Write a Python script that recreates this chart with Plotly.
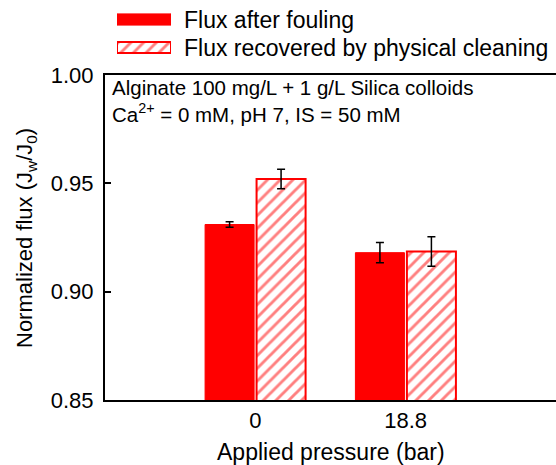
import plotly.graph_objects as go

W, H = 556, 465

pressures = ["0", "18.8"]
series_names = ["Flux after fouling", "Flux recovered by physical cleaning"]
flux_after_fouling = [0.931, 0.918]
flux_after_fouling_err = [0.0013, 0.0047]
flux_recovered = [0.952, 0.9185]
flux_recovered_err = [0.0045, 0.0068]
y_ticks = [0.85, 0.90, 0.95, 1.00]

RED = "#ff0000"
FONT = "Liberation Sans, Arial, sans-serif"

def px_x(x):
    return x / W

def px_y(y):
    return 1 - y / H

HATCH = dict(shape="/", fgcolor=RED, bgcolor="white", size=9, solidity=0.32)

fig = go.Figure()

fig.add_trace(go.Bar(
    x=pressures, y=flux_after_fouling, name=series_names[0],
    marker=dict(color=RED, line=dict(color=RED, width=1)),
    error_y=dict(type="data", array=flux_after_fouling_err, color="black", thickness=1.5, width=4),
    showlegend=False,
))
fig.add_trace(go.Bar(
    x=pressures, y=flux_recovered, name=series_names[1],
    marker=dict(color="white", line=dict(color=RED, width=2), pattern=HATCH),
    error_y=dict(type="data", array=flux_recovered_err, color="black", thickness=1.5, width=4),
    showlegend=False,
))

# legend swatches on a small auxiliary axis
fig.add_trace(go.Bar(
    y=[0], x=[1], orientation="h", width=0.4, xaxis="x2", yaxis="y2",
    marker=dict(color=RED, line=dict(color=RED, width=1)), showlegend=False, hoverinfo="skip",
))
fig.add_trace(go.Bar(
    y=[1], x=[1], orientation="h", width=0.4, xaxis="x2", yaxis="y2",
    marker=dict(color="white", line=dict(color=RED, width=2), pattern=HATCH),
    showlegend=False, hoverinfo="skip",
))

annotations = []
for i, name in enumerate(series_names):
    annotations.append(dict(
        text=name, xref="paper", yref="paper", x=px_x(182), y=px_y(19.5 + 28 * i),
        xanchor="left", yanchor="middle", showarrow=False,
        font=dict(family=FONT, size=23, color="black"),
    ))

annotations.append(dict(
    text="Alginate 100 mg/L + 1 g/L Silica colloids<br>Ca<sup>2+</sup> = 0 mM, pH 7, IS = 50 mM",
    xref="paper", yref="paper", x=px_x(110), y=px_y(74),
    xanchor="left", yanchor="top", align="left", showarrow=False,
    font=dict(family=FONT, size=20.5, color="black"),
))
annotations.append(dict(
    text="Normalized flux (J<sub>w</sub>/J<sub>0</sub>)",
    xref="paper", yref="paper", x=px_x(26), y=px_y(238), textangle=-90,
    xanchor="center", yanchor="middle", showarrow=False,
    font=dict(family=FONT, size=22, color="black"),
))
annotations.append(dict(
    text="Applied pressure (bar)",
    xref="paper", yref="paper", x=px_x(331), y=px_y(452),
    xanchor="center", yanchor="middle", showarrow=False,
    font=dict(family=FONT, size=23, color="black"),
))

fig.update_layout(
    width=W, height=H,
    margin=dict(l=0, r=0, t=0, b=0),
    paper_bgcolor="white", plot_bgcolor="white",
    barmode="group", bargap=0.315, bargroupgap=0.048,
    font=dict(family=FONT, size=22, color="black"),
    showlegend=False,
    annotations=annotations,
    xaxis=dict(
        domain=[px_x(105), 1], type="category", range=[-1, 2],
        showline=True, linecolor="black", linewidth=2, mirror=True,
        ticks="", showgrid=False, zeroline=False, automargin=False,
        tickfont=dict(family=FONT, size=22, color="black"),
    ),
    yaxis=dict(
        domain=[px_y(400), px_y(75)], range=[0.85, 1.00],
        tickvals=y_ticks, tickformat=".2f",
        showline=True, linecolor="black", linewidth=2,
        ticks="inside", ticklen=6, tickwidth=2, tickcolor="black",
        ticklabelstandoff=5,
        showgrid=False, zeroline=False, automargin=False,
        tickfont=dict(family=FONT, size=22, color="black"),
    ),
    xaxis2=dict(
        domain=[px_x(117), px_x(171)], range=[0, 1], anchor="y2",
        visible=False, fixedrange=True,
    ),
    yaxis2=dict(
        domain=[px_y(61.5), px_y(5.5)], range=[1.5, -0.5], anchor="x2",
        visible=False, fixedrange=True,
    ),
)

fig.write_html("out.html")
